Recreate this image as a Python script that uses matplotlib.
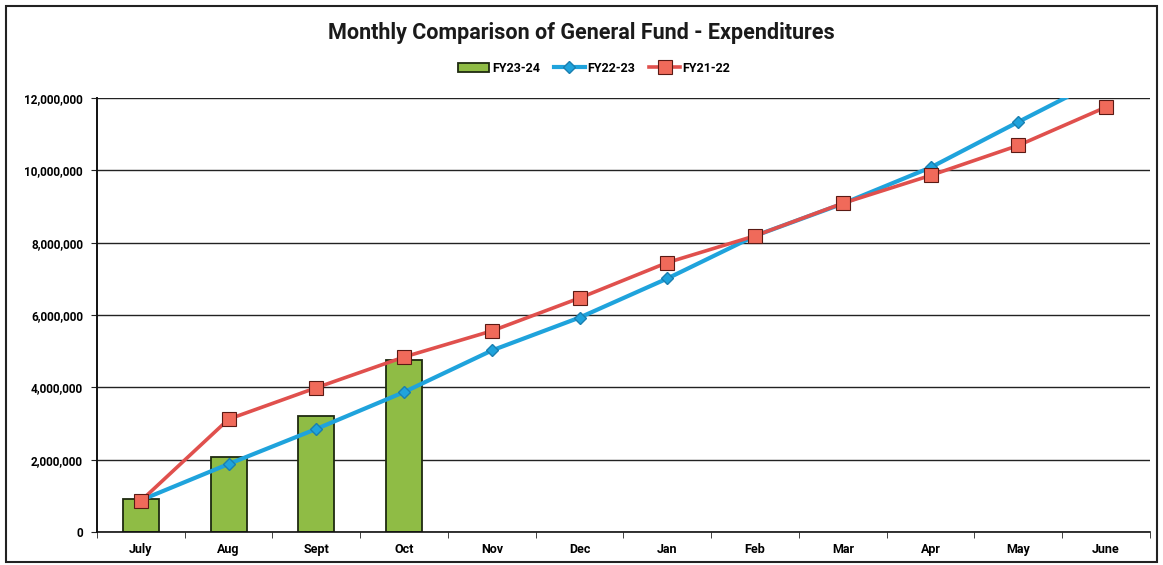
import numpy as np
import matplotlib
matplotlib.use('Agg')
import matplotlib.pyplot as plt
from matplotlib.patches import Rectangle

# dados
meses = ['July', 'Aug', 'Sept', 'Oct', 'Nov', 'Dec', 'Jan', 'Feb', 'Mar', 'Apr', 'May', 'June']
fy23_24 = [910000, 2070000, 3200000, 4750000]
fy22_23 = [880000, 1880000, 2850000, 3870000, 5020000, 5930000, 7010000, 8190000, 9080000, 10080000, 11340000, 12580000]
fy21_22 = [860000, 3120000, 3990000, 4840000, 5560000, 6470000, 7450000, 8190000, 9090000, 9860000, 10690000, 11750000]
yticks = [0, 2000000, 4000000, 6000000, 8000000, 10000000, 12000000]

plt.rcParams['font.family'] = ['Roboto', 'DejaVu Sans']

fig = plt.figure(figsize=(11.63, 5.65), dpi=100)
ax = fig.add_axes([0.0834, 0.0584, 0.9054, 0.7681])

x = np.arange(len(meses))
barras = ax.bar(x[:len(fy23_24)], fy23_24, width=0.41, color='#8fbc45', edgecolor='#1f2a10',
                linewidth=1.3, zorder=2, label='FY23-24')
azul, = ax.plot(x, fy22_23, color='#1fa3dc', linewidth=3.0, marker='D', markersize=6,
                markerfacecolor='#1fa3dc', markeredgecolor='#1a7fb0', zorder=3, label='FY22-23')
verm, = ax.plot(x, fy21_22, color='#e0504d', linewidth=2.6, marker='s', markersize=9.5,
                markerfacecolor='#f06a5a', markeredgecolor='#5a1a14', markeredgewidth=0.8,
                zorder=4, label='FY21-22')

ax.set_xlim(-0.5, len(meses) - 0.5)
ax.set_ylim(0, 12000000)
ax.set_yticks(yticks)
ax.set_yticklabels(['{:,}'.format(v) for v in yticks], fontsize=8.5, fontweight='bold')
ax.set_xticks(x)
ax.set_xticklabels(meses, fontsize=9, fontweight='bold')
ax.set_xticks(np.arange(-0.5, len(meses)), minor=True)
ax.tick_params(axis='x', which='major', length=0, pad=8)
ax.tick_params(axis='x', which='minor', length=4, color='#222222')
ax.tick_params(axis='y', length=4, color='#222222', pad=6)

ax.yaxis.grid(True, color='#222222', linewidth=1.0, zorder=0)
ax.set_axisbelow(True)
for s in ['top', 'right']:
    ax.spines[s].set_visible(False)
ax.spines['left'].set_color('#111111')
ax.spines['left'].set_linewidth(1.4)
ax.spines['bottom'].set_color('#111111')
ax.spines['bottom'].set_linewidth(1.2)

fig.text(0.5, 0.942, 'Monthly Comparison of General Fund - Expenditures', ha='center', va='center',
         fontsize=15.5, fontweight='bold', color='#1a1a1a')
fig.legend([barras, azul, verm], ['FY23-24', 'FY22-23', 'FY21-22'],
           loc='center', bbox_to_anchor=(0.511, 0.879), ncol=3, frameon=False,
           handlelength=2.5, columnspacing=1.1, handletextpad=0.2,
           prop={'weight': 'bold', 'size': 9})

# moldura externa
fig.patches.append(Rectangle((0.005, 0.005), 0.99, 0.985, transform=fig.transFigure,
                             fill=False, edgecolor='#222222', linewidth=1.5))

fig.savefig('out.png', dpi=100)
